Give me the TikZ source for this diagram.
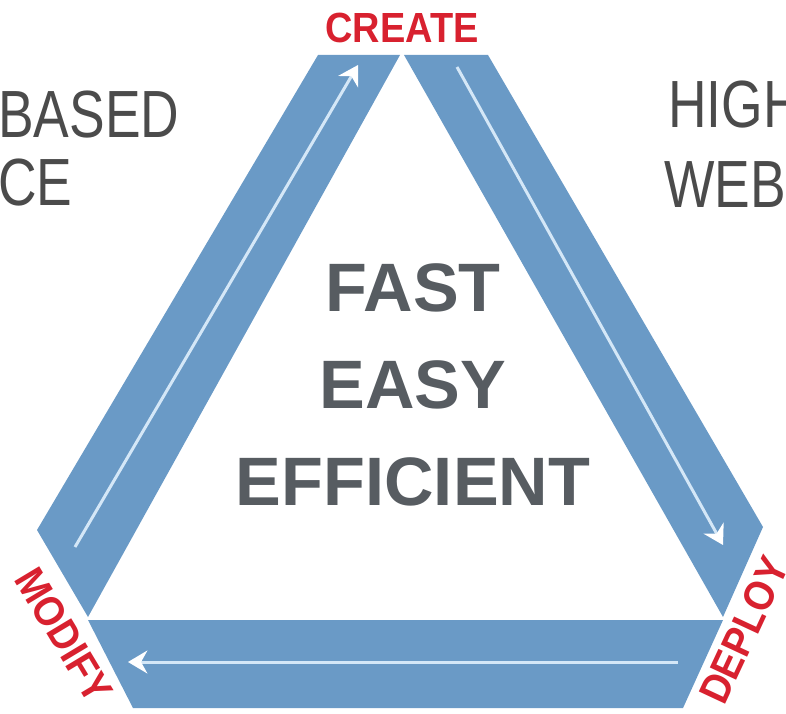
\documentclass[tikz,border=0pt]{standalone}
\usepackage{fontspec}
\setmainfont{Liberation Sans}
\newfontfamily\sidefont[FakeStretch=0.8]{Liberation Sans}
\newfontfamily\tagfont[FakeStretch=0.9]{Liberation Sans}
\usetikzlibrary{arrows.meta}
\definecolor{barblue}{HTML}{6A9AC6}
\definecolor{flowblue}{HTML}{D4E7F7}
\definecolor{tagred}{HTML}{D8212F}
\definecolor{mottogray}{HTML}{575C61}
\definecolor{sidegray}{HTML}{4B4B4B}
\tikzset{
	>={Stealth[length=11pt,width=13pt,color=white]},
	barfill/.style={
		fill=barblue,
		draw=none},
	flowline/.style={draw=flowblue, line width=1.7pt, ->},
	tag/.style={
		text=tagred,
		font=\tagfont\bfseries\fontsize{24pt}{24pt}\selectfont,
		inner sep=0pt},
	motto/.style={
		text=mottogray,
		font=\bfseries\fontsize{39pt}{55pt}\selectfont,
		align=center,
		inner sep=0pt},
	sidetext/.style={
		text=sidegray,
		font=\sidefont\fontsize{38pt}{38pt}\selectfont,
		inner sep=0pt,
		anchor=base west},
}

\begin{document}
\begin{tikzpicture}
			[x=0.02cm, y=-0.02cm]
			\useasboundingbox (0,0) rectangle (786,713);
			\clip (0,0) rectangle (786,713);
			% corners of the three bars
			\coordinate (lto) at (318,55);
			\coordinate (lti) at (400,55);
			\coordinate (lbi) at (88,617);
			\coordinate (lbo) at (37,530);
			\coordinate (rti) at (404,55);
			\coordinate (rto) at (488,55);
			\coordinate (rbo) at (763,527);
			\coordinate (rbi) at (723,617);
			\coordinate (bli) at (88,620);
			\coordinate (bri) at (723,620);
			\coordinate (bro) at (683,708);
			\coordinate (blo) at (133,708);
			\fill[barfill] (lto) -- (lti) -- (lbi) -- (lbo) -- cycle;
			\fill[barfill] (rti) -- (rto) -- (rbo) -- (rbi) -- cycle;
			\fill[barfill] (bli) -- (bri) -- (bro) -- (blo) -- cycle;
			% flow inside the bars
			\coordinate (upstart) at (75,547);
			\coordinate (upend) at (358,65);
			\coordinate (downstart) at (457,67);
			\coordinate (downend) at (723,545);
			\coordinate (backstart) at (678,662);
			\coordinate (backend) at (128,662);
			\draw[flowline] (upstart) -- (upend);
			\draw[flowline] (downstart) -- (downend);
			\draw[flowline] (backstart) -- (backend);
			\node[tag] (create) at (402,28) {CREATE};
			\node[tag, rotate=-59] (modify) at (64,635) {MODIFY};
			\node[tag, rotate=65] (deploy) at (744,630) {DEPLOY};
			\node[motto] (motto) at (413,385) {FAST\\EASY\\EFFICIENT};
			\node[sidetext] (based) at (-2,137) {BASED};
			\node[sidetext] (ce) at (-2,205) {CE};
			\node[sidetext] (high) at (668,127) {HIGH};
			\node[sidetext] (web) at (664,207) {WEB};
			\end{tikzpicture}
\end{document}
